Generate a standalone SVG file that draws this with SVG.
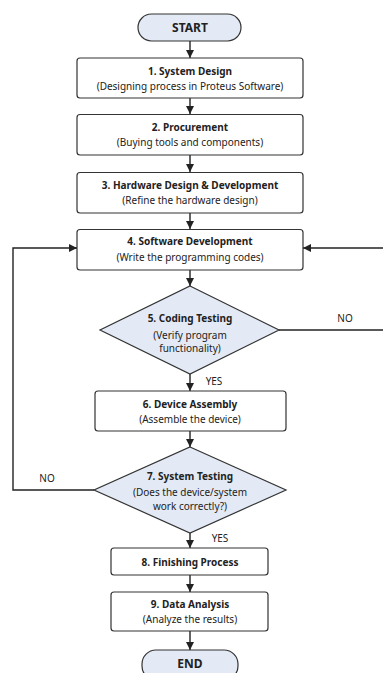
<svg xmlns="http://www.w3.org/2000/svg" width="383" height="673" viewBox="0 0 383 673">
<style>
.box{fill:#fff;stroke:#333;stroke-width:1.2}
.term{fill:#e3eaf5;stroke:#333;stroke-width:1.2}
.dec{fill:#e3eaf5;stroke:#333;stroke-width:1.2}
.t{font-family:"Noto Sans",sans-serif;font-size:10px;font-weight:bold;fill:#222;text-anchor:middle}
.s{font-family:"Noto Sans",sans-serif;font-size:10px;fill:#222;text-anchor:middle}
.lbl{font-family:"Noto Sans",sans-serif;font-size:10px;fill:#222;text-anchor:middle}
.big{font-family:"Noto Sans",sans-serif;font-size:12px;font-weight:bold;fill:#222;text-anchor:middle}
.c{fill:none;stroke:#222;stroke-width:1.4}
</style>
<defs>
<marker id="ah" viewBox="0 0 10 10" refX="10" refY="5" markerWidth="8" markerHeight="8" markerUnits="userSpaceOnUse" orient="auto">
<path d="M0,0 L10,5 L0,10 z" fill="#222"/>
</marker>
</defs>
<rect width="383" height="673" fill="#fff"/>
<g id="connectors">
<line class="c" x1="190" y1="41" x2="190" y2="58" marker-end="url(#ah)"/>
<line class="c" x1="190" y1="98" x2="190" y2="114" marker-end="url(#ah)"/>
<line class="c" x1="190" y1="155" x2="190" y2="172" marker-end="url(#ah)"/>
<line class="c" x1="190" y1="213" x2="190" y2="229" marker-end="url(#ah)"/>
<line class="c" x1="190" y1="270" x2="190" y2="286" marker-end="url(#ah)"/>
<line class="c" x1="190" y1="374" x2="190" y2="391" marker-end="url(#ah)"/>
<line class="c" x1="190" y1="431" x2="190" y2="447" marker-end="url(#ah)"/>
<line class="c" x1="190" y1="533" x2="190" y2="548" marker-end="url(#ah)"/>
<line class="c" x1="190" y1="575" x2="190" y2="592" marker-end="url(#ah)"/>
<line class="c" x1="190" y1="631" x2="190" y2="650" marker-end="url(#ah)"/>
<polyline class="c" points="279,330 383,330"/>
<line class="c" x1="383" y1="248" x2="303" y2="248" marker-end="url(#ah)"/>
<polyline class="c" points="94,490 13,490 13,248 77,248" marker-end="url(#ah)"/>
<text class="lbl" x="345" y="322">NO</text>
<text class="lbl" x="47" y="482">NO</text>
<text class="lbl" x="214" y="385">YES</text>
<text class="lbl" x="220" y="542">YES</text>
</g>
<g id="start">
<rect class="term" x="138" y="14" width="103" height="27" rx="13.5"/>
<text class="big" x="190" y="32">START</text>
</g>
<g id="n1">
<rect class="box" x="77" y="58" width="226" height="40" rx="3"/>
<text class="t" x="190" y="74.5">1. System Design</text>
<text class="s" x="190" y="89.5">(Designing process in Proteus Software)</text>
</g>
<g id="n2">
<rect class="box" x="77" y="114.5" width="226" height="40.5" rx="3"/>
<text class="t" x="190" y="130.5">2. Procurement</text>
<text class="s" x="190" y="145.5">(Buying tools and components)</text>
</g>
<g id="n3">
<rect class="box" x="77" y="172.5" width="226" height="40.5" rx="3"/>
<text class="t" x="190" y="188.5">3. Hardware Design &amp; Development</text>
<text class="s" x="190" y="204">(Refine the hardware design)</text>
</g>
<g id="n4">
<rect class="box" x="77" y="229.5" width="226" height="40.5" rx="3"/>
<text class="t" x="190" y="245">4. Software Development</text>
<text class="s" x="190" y="260.5">(Write the programming codes)</text>
</g>
<g id="n5">
<polygon class="dec" points="190,286 279,330 190,374 100,330"/>
<text class="t" x="190" y="322">5. Coding Testing</text>
<text class="s" x="190" y="338.5">(Verify program</text>
<text class="s" x="190" y="352">functionality)</text>
</g>
<g id="n6">
<rect class="box" x="95" y="391" width="191" height="40" rx="3"/>
<text class="t" x="190" y="407.5">6. Device Assembly</text>
<text class="s" x="190" y="422.5">(Assemble the device)</text>
</g>
<g id="n7">
<polygon class="dec" points="190,447 286,490 190,533 94,490"/>
<text class="t" x="190" y="480">7. System Testing</text>
<text class="s" x="190" y="495.5">(Does the device/system</text>
<text class="s" x="190" y="509.5">work correctly?)</text>
</g>
<g id="n8">
<rect class="box" x="111" y="548" width="157" height="27" rx="3"/>
<text class="t" x="190" y="565.5">8. Finishing Process</text>
</g>
<g id="n9">
<rect class="box" x="111" y="592" width="157" height="39" rx="3"/>
<text class="t" x="190" y="607.5">9. Data Analysis</text>
<text class="s" x="190" y="622.5">(Analyze the results)</text>
</g>
<g id="end">
<rect class="term" x="142" y="650" width="96" height="30" rx="14"/>
<text class="big" x="190" y="668">END</text>
</g>
</svg>
